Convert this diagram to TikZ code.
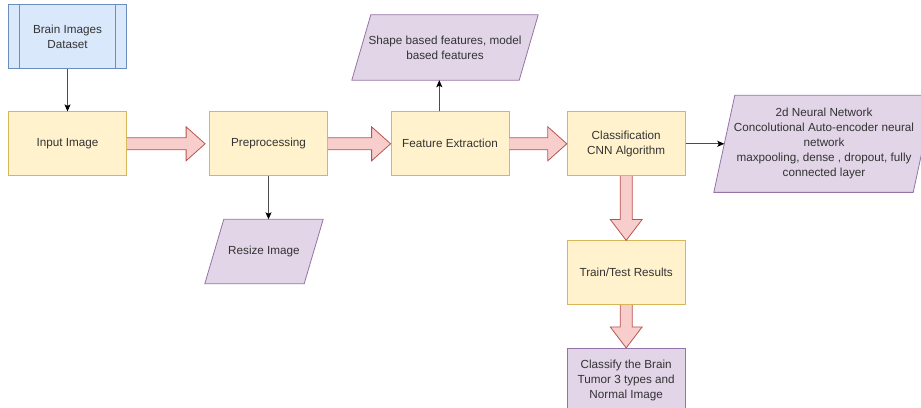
\documentclass[tikz,border=0pt]{standalone}
\usepackage{fontspec}
\setmainfont{Liberation Sans}
\usetikzlibrary{arrows.meta,calc,backgrounds}

\definecolor{boxfill}{HTML}{FFF2CC}
\definecolor{boxline}{HTML}{D6B656}
\definecolor{datafill}{HTML}{DAE8FC}
\definecolor{dataline}{HTML}{6C8EBF}
\definecolor{iofill}{HTML}{E1D5E7}
\definecolor{ioline}{HTML}{9673A6}
\definecolor{fatfill}{HTML}{F8CECC}
\definecolor{fatline}{HTML}{B85450}

% thick block arrows between the stages
\newcommand{\fatright}[2]{%
	\filldraw[fat] let \p1=(#1), \p2=(#2) in
	(\x1,\y1+6pt) -- (\x2-19pt,\y1+6pt) -- (\x2-19pt,\y1+17pt) -- (\x2,\y1)
	-- (\x2-19pt,\y1-17pt) -- (\x2-19pt,\y1-6pt) -- (\x1,\y1-6pt);}
\newcommand{\fatdown}[2]{%
	\filldraw[fat] let \p1=(#1), \p2=(#2) in
	(\x1-6pt,\y1) -- (\x1-6pt,\y2+21pt) -- (\x1-16pt,\y2+21pt) -- (\x1,\y2)
	-- (\x1+16pt,\y2+21pt) -- (\x1+6pt,\y2+21pt) -- (\x1+6pt,\y1);}
% slanted data box behind a node, #2 = horizontal slant
\newcommand{\iobox}[2]{%
	\filldraw[iobg] ([xshift=-#2/2]#1.south west) -- ([xshift=-#2/2]#1.south east)
	-- ([xshift=#2/2]#1.north east) -- ([xshift=#2/2]#1.north west) -- cycle;}

\begin{document}
\begin{tikzpicture}[x=1pt, y=-1pt,
		every node/.style={font=\fontsize{11.7}{15}\selectfont, text=black!80, align=center},
		stage/.style={draw=boxline, fill=boxfill, line width=0.8pt, minimum width=118pt, minimum height=64pt, inner sep=0pt},
		data/.style={draw=dataline, fill=datafill, line width=0.8pt, minimum width=118pt, minimum height=64pt, inner sep=0pt},
		io/.style={inner sep=0pt},
		iobg/.style={draw=ioline, fill=iofill, line width=0.8pt, line join=miter},
		result/.style={draw=ioline, fill=iofill, line width=0.8pt, minimum width=118pt, minimum height=64pt, inner sep=0pt},
		fat/.style={fill=fatfill, draw=fatline, line width=0.8pt, line join=miter},
		link/.style={draw=black!70, line width=0.8pt, -{Stealth[length=7pt, width=6pt, inset=1.5pt, color=black]}}]
		\useasboundingbox (0,0) rectangle (921,407);

		% source and main pipeline
		\node[data] (dataset) at (67.5,36.7) {Brain Images\\Dataset};
		\draw[dataline, line width=0.8pt] ([xshift=11.7pt]dataset.north west) -- ([xshift=11.7pt]dataset.south west);
		\draw[dataline, line width=0.8pt] ([xshift=-11.7pt]dataset.north east) -- ([xshift=-11.7pt]dataset.south east);
		\node[stage] (input) at (67.5,143.8) {Input Image};
		\node[stage] (prep) at (268.5,143.8) {Preprocessing};
		\node[stage] (feat) at (450,143.8) {Feature Extraction};
		\node[stage] (cls) at (626.2,143.8) {Classification\\CNN Algorithm};
		\node[stage] (train) at (626.2,272.8) {Train/Test Results};
		\node[result] (classes) at (626.2,380.3) {Classify the Brain\\Tumor 3 types and\\Normal Image};

		% side outputs
		\node[io, minimum width=167pt, minimum height=65pt] (shapefeat) at (445,47.5) {Shape based features, model\\based features};
		\node[io, minimum width=99pt, minimum height=64pt] (resize) at (264,251.5) {Resize Image};
		\node[io, minimum width=199pt, minimum height=96.7pt] (layers) at (824,143.8) {2d Neural Network\\Concolutional Auto-encoder neural\\network\\maxpooling, dense , dropout, fully\\connected layer};
		\begin{scope}[on background layer]
			\iobox{shapefeat}{19pt}
			\iobox{resize}{19pt}
			\iobox{layers}{21pt}
		\end{scope}

		\fatright{input.east}{$(prep.west)+(-4,0)$}
		\fatright{prep.east}{feat.west}
		\fatright{feat.east}{cls.west}
		\fatdown{cls.south}{train.north}
		\fatdown{train.south}{classes.north}

		\draw[link] (dataset) -- (input);
		\draw[link] (prep.south) -- (prep.south |- resize.north);
		\draw[link] ([xshift=-10.7pt]feat.north) -- ([xshift=-10.7pt]feat.north |- shapefeat.south);
		\draw[link] (cls) -- (layers.west);
	\end{tikzpicture}
\end{document}
